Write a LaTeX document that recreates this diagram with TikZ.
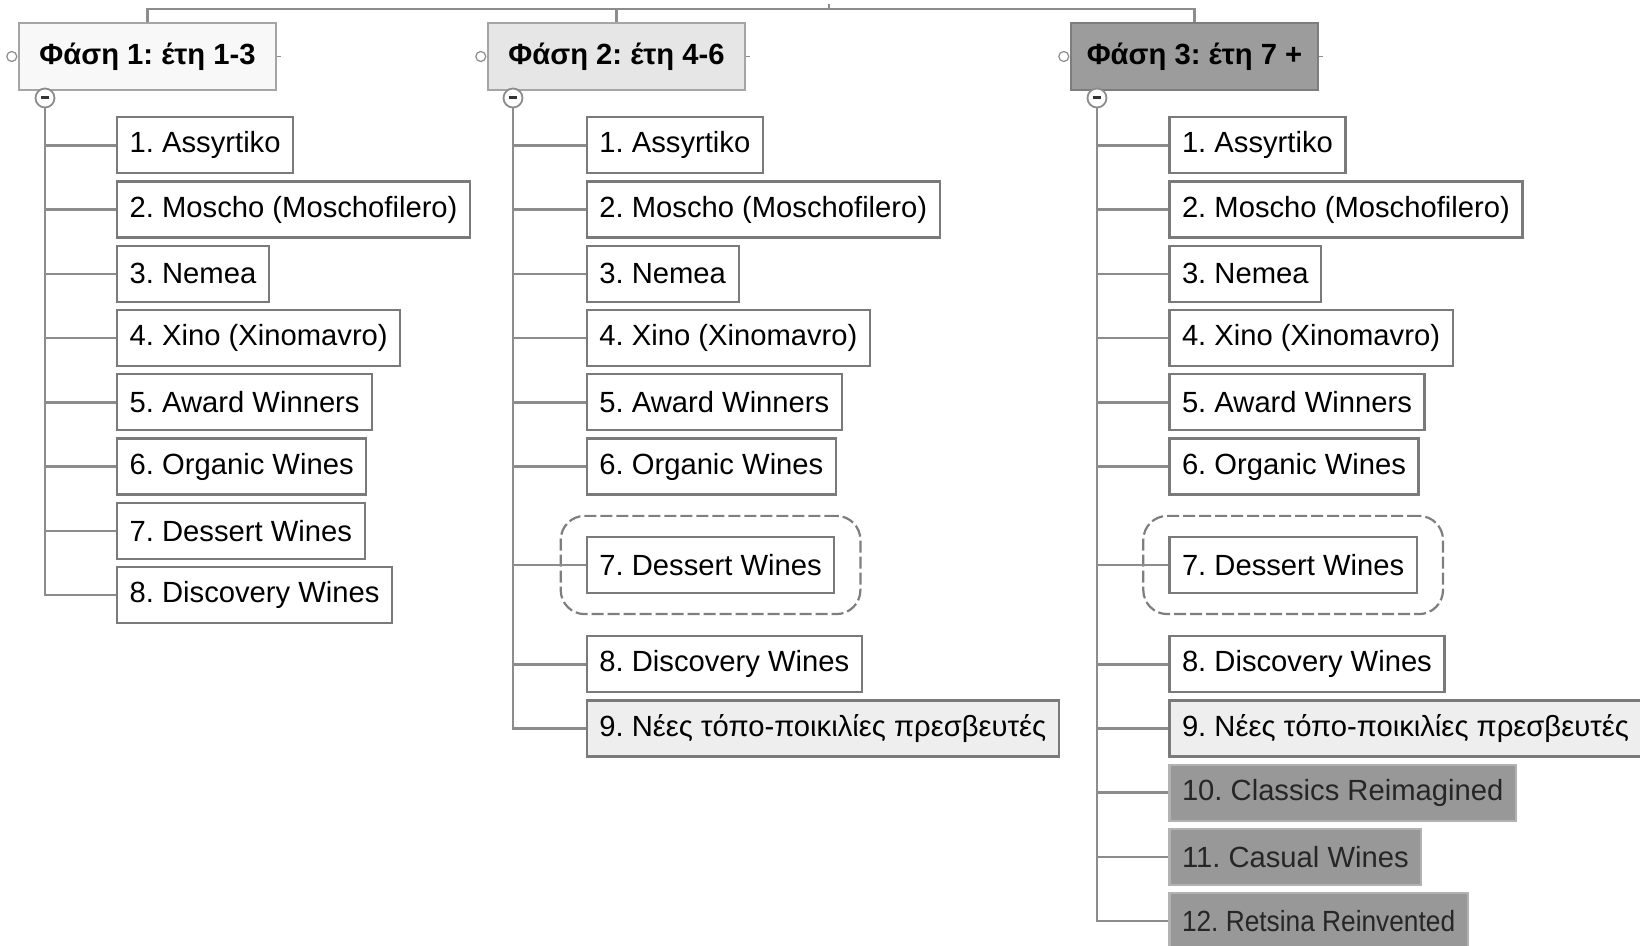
\documentclass[tikz,border=0pt]{standalone}
\usepackage{fontspec}
\setmainfont{Liberation Sans}
\usetikzlibrary{positioning, fit, backgrounds, calc}
\definecolor{linkgray}{RGB}{140,140,140}
\definecolor{boxline} {RGB}{122,122,122}
\definecolor{phline}  {RGB}{165,165,165}
\definecolor{phfilla} {RGB}{248,248,248}
\definecolor{phfillb} {RGB}{230,230,230}
\definecolor{phfillc} {RGB}{156,156,156}
\definecolor{newfill} {RGB}{238,238,238}
\definecolor{extfill} {RGB}{152,152,152}
\definecolor{extline} {RGB}{178,178,178}
\frenchspacing

\begin{document}
\begin{tikzpicture}[x=0.5pt, y=-0.5pt,
  link/.style={draw=linkgray, line width=1.3pt},
  phase/.style={draw=phline, line width=0.8pt, minimum width=128.5pt,
    minimum height=33.5pt, font=\fontsize{14.6}{17}\selectfont\bfseries},
  item/.style={draw=boxline, line width=1.1pt, fill=white, anchor=west,
    minimum height=28pt, inner xsep=6.3pt, font=\fontsize{14.6}{17}\selectfont},
  newitem/.style={item, fill=newfill},
  extitem/.style={item, fill=extfill, draw=extline, text=black!85},
  focus/.style={draw=linkgray!90!black, dash pattern=on 6pt off 2pt, line width=1.1pt,
    rounded corners=12pt, inner xsep=12.5pt, inner ysep=10pt},
  toggle/.style={circle, draw=linkgray, fill=white, line width=0.9pt,
    minimum size=9.5pt, inner sep=0pt,
    path picture={\draw[line width=1.5pt, black!80]
      ([xshift=-2.2pt]path picture bounding box.center) --
      ([xshift=2.2pt]path picture bounding box.center);}},
  handle/.style={circle, draw=linkgray, fill=white, line width=0.6pt,
    minimum size=5pt, inner sep=0pt}]
  \useasboundingbox (0,0) rectangle (1640,946);

  % phases
  \node[phase, fill=phfilla] (pa) at (147.5,56.5) {Φάση 1: έτη 1-3};
  \node[phase, fill=phfillb] (pb) at (616.5,56.5) {Φάση 2: έτη 4-6};
  \node[phase, fill=phfillc, draw=phfillc!80!black, minimum width=123.5pt]
    (pc) at (1194.5,56.5) {Φάση 3: έτη 7 +};

  \coordinate (root) at (829,9);
  \draw[link] (pa.north) -- (pa.north |- root) -- (pc.north |- root) -- (pc.north);
  \draw[link] (pb.north) -- (pb.north |- root);
  \draw[link] (root) -- ++(0,-5);

  % items shared by all phases
  \foreach \p/\bx in {a/116, b/585.7, c/1168.3} {
    \foreach \n/\y/\t in {1/145.4/Assyrtiko, 2/209.6/{Moscho (Moschofilero)},
        3/273.9/Nemea, 4/338.1/{Xino (Xinomavro)}, 5/402.4/{Award Winners},
        6/466.6/{Organic Wines}} {
      \node[item] (\p\n) at (\bx,\y) {\n. \t};
    }
  }

  % phase 1
  \node[item] (a7) at (116,530.9) {7. Dessert Wines};
  \node[item] (a8) at (116,595.1) {8. Discovery Wines};

  % phase 2
  \node[item] (b7) at (585.7,565) {7. Dessert Wines};
  \node[item] (b8) at (585.7,664.3) {8. Discovery Wines};
  \node[newitem] (b9) at (585.7,728.5) {9. Νέες τόπο-ποικιλίες πρεσβευτές};
  \node[focus, fit=(b7)] (fb7) {};

  % phase 3
  \node[item] (c7) at (1168.3,565) {7. Dessert Wines};
  \node[item] (c8) at (1168.3,664.3) {8. Discovery Wines};
  \node[newitem] (c9) at (1168.3,728.5) {9. Νέες τόπο-ποικιλίες πρεσβευτές};
  \node[extitem] (c10) at (1168.3,792.7) {10. Classics Reimagined};
  \node[extitem] (c11) at (1168.3,856.9) {11. Casual Wines};
  \node[extitem] (c12) at (1168.3,921.1)
    {\addfontfeatures{FakeStretch=0.9}12. Retsina Reinvented};
  \node[focus, fit=(c7)] (fc7) {};

  % toggles and branches
  \node[toggle] (ta) at (45,98) {};
  \node[toggle] (tb) at (513,98) {};
  \node[toggle] (tc) at (1097,98) {};
  \foreach \n in {1,...,8} \draw[link] (ta) |- (a\n);
  \foreach \n in {1,...,9} \draw[link] (tb) |- (b\n);
  \foreach \n in {1,...,12} \draw[link] (tc) |- (c\n);

  \foreach \p in {a,b,c} {
    \node[handle] (h\p) at ([xshift=-3.2pt]p\p.west) {};
    \draw[link, line width=0.8pt] (p\p.east) -- ++(4,0);
  }
\end{tikzpicture}
\end{document}
